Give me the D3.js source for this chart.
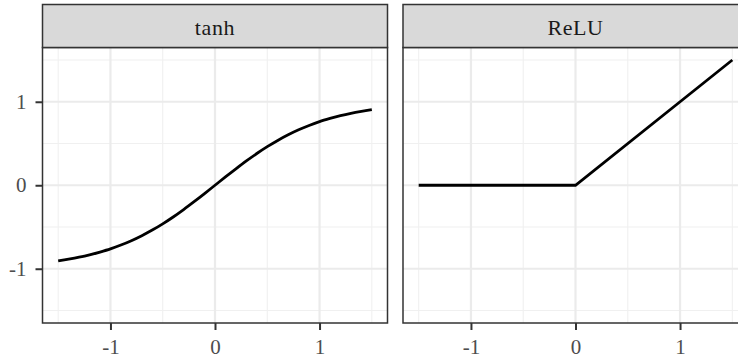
<!DOCTYPE html>
<html>
<head>
<meta charset="utf-8">
<script src="https://cdn.jsdelivr.net/npm/d3@7"></script>
<style>
  body { margin: 0; background: #fff; }
  svg { display: block; }
</style>
</head>
<body>
<svg id="chart" width="738" height="360"></svg>
<script>
/* panel names */
var panels = ["tanh", "ReLU"];

/* tanh curve */
var tanhX = [-1.5,-1.4,-1.3,-1.2,-1.1,-1.0,-0.9,-0.8,-0.7,-0.6,-0.5,-0.4,-0.3,-0.2,-0.1,0,
             0.1,0.2,0.3,0.4,0.5,0.6,0.7,0.8,0.9,1.0,1.1,1.2,1.3,1.4,1.5];
var tanhY = [-0.905,-0.885,-0.862,-0.834,-0.800,-0.762,-0.716,-0.664,-0.604,-0.537,-0.462,-0.380,-0.291,-0.197,-0.100,0,
             0.100,0.197,0.291,0.380,0.462,0.537,0.604,0.664,0.716,0.762,0.800,0.834,0.862,0.885,0.905];

/* ReLU line */
var reluX = [-1.5, 0, 1.5];
var reluY = [0, 0, 1.5];

/* ticks */
var majorTicks = [-1, 0, 1];
var minorTicks = [-1.5, -0.5, 0.5, 1.5];

var FONT = "'Liberation Serif', serif";
var svg = d3.select("#chart");

/* layout of the two facets */
var panelLeft = [42.5, 403];
var panelW = 345;
var stripTop = 4.5, stripBottom = 47.5, panelBottom = 323;

var y = d3.scaleLinear().domain([-1.65, 1.65]).range([panelBottom, stripBottom]);

var series = [
  d3.zip(tanhX, tanhY),
  d3.zip(reluX, reluY)
];

/* hyphen minus like the reference */
function fmt(d) { return String(d); }

panels.forEach(function(name, i) {
  var x = d3.scaleLinear().domain([-1.65, 1.65]).range([panelLeft[i], panelLeft[i] + panelW]);
  var g = svg.append("g");

  /* minor grid */
  g.selectAll(".minx").data(minorTicks).enter().append("line")
    .attr("x1", function(d) { return x(d); }).attr("x2", function(d) { return x(d); })
    .attr("y1", stripBottom).attr("y2", panelBottom)
    .attr("stroke", "#f0f0f0").attr("stroke-width", 1.1);
  g.selectAll(".miny").data(minorTicks).enter().append("line")
    .attr("y1", function(d) { return y(d); }).attr("y2", function(d) { return y(d); })
    .attr("x1", x.range()[0]).attr("x2", x.range()[1])
    .attr("stroke", "#f0f0f0").attr("stroke-width", 1.1);

  /* major grid */
  g.selectAll(".majx").data(majorTicks).enter().append("line")
    .attr("x1", function(d) { return x(d); }).attr("x2", function(d) { return x(d); })
    .attr("y1", stripBottom).attr("y2", panelBottom)
    .attr("stroke", "#ebebeb").attr("stroke-width", 2.2);
  g.selectAll(".majy").data(majorTicks).enter().append("line")
    .attr("y1", function(d) { return y(d); }).attr("y2", function(d) { return y(d); })
    .attr("x1", x.range()[0]).attr("x2", x.range()[1])
    .attr("stroke", "#ebebeb").attr("stroke-width", 2.2);

  /* the curve */
  var line = d3.line()
    .x(function(d) { return x(d[0]); })
    .y(function(d) { return y(d[1]); })
    .curve(i === 0 ? d3.curveMonotoneX : d3.curveLinear);
  g.append("path").datum(series[i])
    .attr("d", line)
    .attr("fill", "none")
    .attr("stroke", "#000")
    .attr("stroke-width", 2.8);

  /* panel border */
  g.append("rect")
    .attr("x", x.range()[0]).attr("y", stripBottom)
    .attr("width", panelW).attr("height", panelBottom - stripBottom)
    .attr("fill", "none").attr("stroke", "#333").attr("stroke-width", 1.5);

  /* strip */
  g.append("rect")
    .attr("x", x.range()[0]).attr("y", stripTop)
    .attr("width", panelW).attr("height", stripBottom - stripTop)
    .attr("fill", "#d9d9d9").attr("stroke", "#333").attr("stroke-width", 1.5);
  g.append("text")
    .attr("x", x(0)).attr("y", 35)
    .attr("text-anchor", "middle")
    .style("font-family", FONT)
    .style("font-size", "22px")
    .style("letter-spacing", "0.6px")
    .attr("fill", "#1a1a1a")
    .text(name);

  /* x axis */
  var xa = g.append("g")
    .attr("transform", "translate(0," + panelBottom + ")")
    .call(d3.axisBottom(x).tickValues(majorTicks).tickSize(7).tickPadding(9).tickFormat(fmt));
  xa.select(".domain").remove();
  xa.selectAll(".tick line").attr("stroke", "#333").attr("stroke-width", 2);
  xa.selectAll(".tick text").style("font-family", FONT).style("font-size", "21px").attr("fill", "#4d4d4d");

  /* y axis only on the first facet */
  if (i === 0) {
    var ya = g.append("g")
      .attr("transform", "translate(" + x.range()[0] + ",0)")
      .call(d3.axisLeft(y).tickValues(majorTicks).tickSize(7).tickPadding(9).tickFormat(fmt));
    ya.select(".domain").remove();
    ya.selectAll(".tick line").attr("stroke", "#333").attr("stroke-width", 2);
    ya.selectAll(".tick text").style("font-family", FONT).style("font-size", "21px").attr("fill", "#4d4d4d");
  }
});
</script>
</body>
</html>
